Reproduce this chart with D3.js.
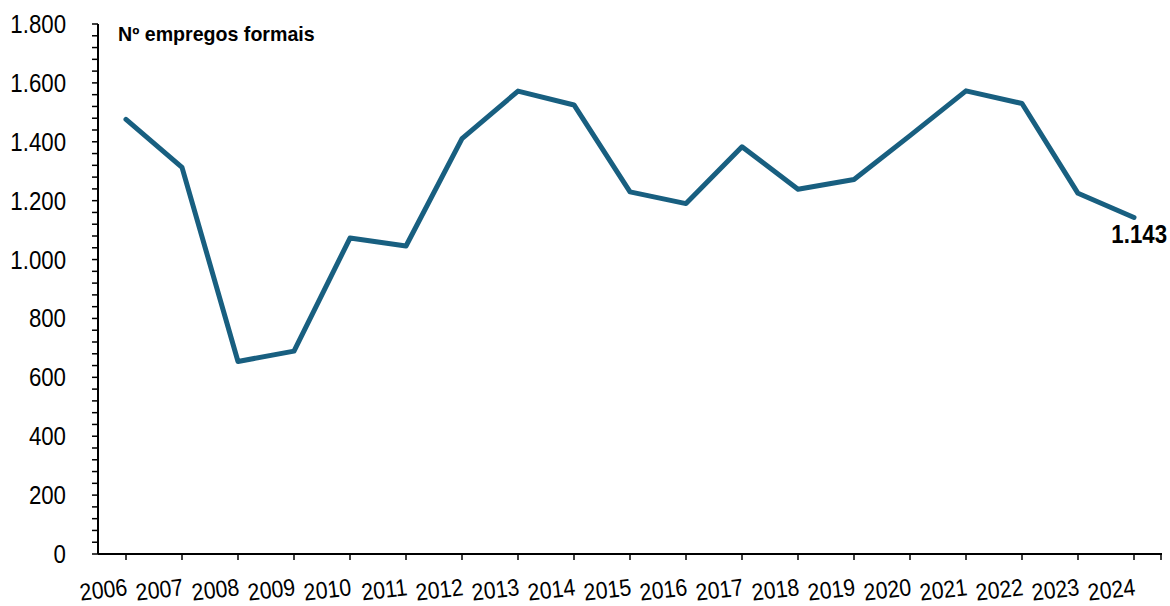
<!DOCTYPE html>
<html><head><meta charset="utf-8">
<script src="https://cdn.jsdelivr.net/npm/d3@7"></script>
<style>
body{margin:0;background:#fff;}
svg{display:block;}
text{font-family:"Liberation Sans",Arial,sans-serif;fill:#000;}
</style></head>
<body>
<svg id="chart" width="1170" height="606"></svg>
<script>
const years = ["2006","2007","2008","2009","2010","2011","2012","2013","2014","2015","2016","2017","2018","2019","2020","2021","2022","2023","2024"];
const empregos = [1476,1313,654,689,1073,1046,1411,1572,1525,1230,1190,1383,1239,1272,1421,1573,1530,1225,1143];
const yTicks = [0,200,400,600,800,1000,1200,1400,1600,1800];
const title = "Nº empregos formais";
const lastLabel = "1.143";

const svg = d3.select("#chart");
const mL = 98, mR = 1162, mT = 24, mB = 554;
const x = d3.scaleBand().domain(years).range([mL, mR]).padding(0);
const y = d3.scaleLinear().domain([0,1800]).range([mB, mT]);
const fmt = v => d3.format(",")(v).replace(/,/g, ".");
const cx = d => x(d) + x.bandwidth()/2;
const SX = 0.89;

// y axis minor ticks
const minor = d3.range(0, 1801, 40);
svg.append("g").selectAll("line").data(minor).join("line")
  .attr("x1", mL-6).attr("x2", mL).attr("y1", d=>y(d)).attr("y2", d=>y(d))
  .attr("stroke","#000").attr("stroke-width",1.5);
svg.append("line").attr("x1",mL).attr("x2",mL).attr("y1",mT).attr("y2",mB)
  .attr("stroke","#000").attr("stroke-width",2);
svg.append("g").selectAll("text").data(yTicks).join("text")
  .attr("transform", d=>`translate(66,${y(d)}) scale(${SX},1)`)
  .attr("dy","0.36em")
  .attr("text-anchor","end").attr("font-size",25).text(d=>fmt(d));

// x axis
svg.append("line").attr("x1",mL).attr("x2",mR).attr("y1",mB).attr("y2",mB)
  .attr("stroke","#000").attr("stroke-width",2);
const xt = years.map(cx).concat([mR-1]);
svg.append("g").selectAll("line").data(xt).join("line")
  .attr("x1",d=>d).attr("x2",d=>d).attr("y1",mB).attr("y2",mB+6)
  .attr("stroke","#000").attr("stroke-width",1.5);
svg.append("g").selectAll("text").data(years).join("text")
  .attr("transform", d=>`translate(${cx(d)+2},595) rotate(-7) scale(${SX},1)`)
  .attr("text-anchor","end").attr("font-size",24).text(d=>d);

// line
const line = d3.line().x((d,i)=>cx(years[i])).y(d=>y(d));
svg.append("path").datum(empregos).attr("d", line)
  .attr("fill","none").attr("stroke","#185f80").attr("stroke-width",5)
  .attr("stroke-linejoin","round").attr("stroke-linecap","round");

svg.append("text").attr("transform","translate(118,41) scale(0.98,1)")
  .attr("font-size",20).attr("font-weight","bold").text(title);
svg.append("text").attr("transform",`translate(1167,243) scale(${SX},1)`).attr("text-anchor","end")
  .attr("font-size",25).attr("font-weight","bold").text(lastLabel);
</script>
</body></html>
